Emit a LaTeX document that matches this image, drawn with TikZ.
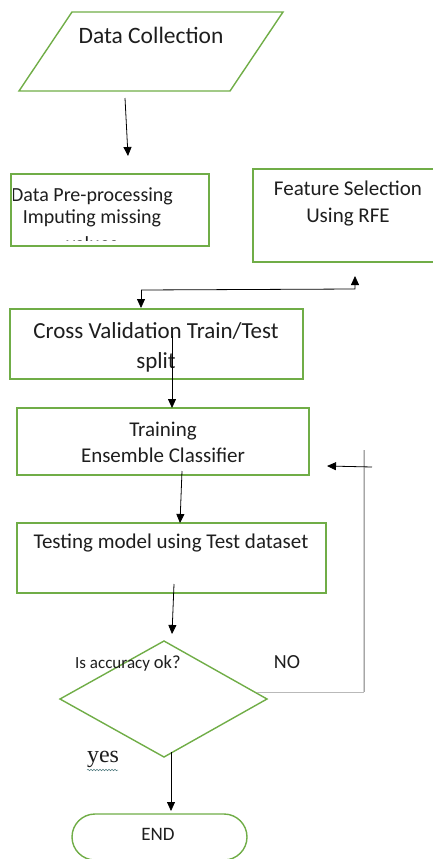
\documentclass[tikz,border=0pt]{standalone}
\usepackage{fontspec}
\setmainfont{Carlito}
\newfontfamily\yesfont{Liberation Serif}
\usetikzlibrary{arrows.meta,decorations.pathmorphing}
\definecolor{offgreen}{RGB}{112,173,71}
\definecolor{txtc}{RGB}{30,30,30}
\tikzset{
  gbox/.style={draw=offgreen,line width=1.4pt,fill=white,inner sep=0pt},
  arr/.style={black,line width=0.8pt,-{Triangle[width=8pt,length=9pt]}},
  lbl/.style={inner sep=0pt,text=txtc,align=center},
}
\begin{document}
\begin{tikzpicture}[x=1pt,y=-1pt]
\useasboundingbox (0,0) rectangle (433,859);
% Data collection parallelogram
\draw[offgreen,line width=1.4pt] (72,12) -- (283,12) -- (230,91) -- (19,91) -- cycle;
\node[lbl,font=\fontsize{23.5}{26}\selectfont] (dc) at (151,35) {Data Collection};
% Data preprocessing
\node[gbox,minimum width=198pt,minimum height=72pt] (dp) at (110,210) {};
\begin{scope}
\clip (13,176) rectangle (207,240);
\node[lbl,font=\fontsize{20}{22}\selectfont] (dpt) at (92,219) {Data Pre-processing\\Imputing missing\\[5pt]values};
\end{scope}
% Feature selection
\node[gbox,minimum width=184pt,minimum height=93pt] (fs) at (345,215.5) {};
\node[lbl,font=\fontsize{21}{27}\selectfont] (fst) at (348,204) {Feature Selection\\Using RFE};
% Cross validation
\node[gbox,minimum width=293pt,minimum height=70pt] (cv) at (156.5,344) {};
\node[lbl,font=\fontsize{23}{30}\selectfont] (cvt) at (156,347) {Cross Validation Train/Test\\split};
% Training
\node[gbox,minimum width=292pt,minimum height=67pt] (tr) at (163,441.5) {};
\node[lbl,font=\fontsize{21}{26}\selectfont] (trt) at (163,442) {Training\\Ensemble Classifier};
% Testing
\node[gbox,minimum width=309pt,minimum height=70pt] (te) at (171.5,558) {};
\node[lbl,font=\fontsize{21}{24}\selectfont] (tet) at (171,543) {Testing model using Test dataset};
% Diamond
\draw[offgreen,line width=1.4pt] (164,641) -- (267,699) -- (164,757) -- (60,699) -- cycle;
\node[lbl,anchor=base west] (acc) at (75,668) {\fontsize{17}{19}\selectfont Is accuracy \fontsize{18.5}{20}\selectfont ok?};
\node[lbl,font=\fontsize{20}{22}\selectfont] (no) at (287,662) {NO};
\node[lbl,font=\yesfont\fontsize{24}{26}\selectfont] (yes) at (103,759) {yes};
\draw[offgreen!70!blue,line width=0.5pt,decorate,decoration={snake,amplitude=0.8pt,segment length=3pt}] (87,770) -- (118,770);
% End
\node[gbox,rounded corners=23pt,minimum width=175pt,minimum height=46pt] (endn) at (159.5,837) {};
\node[lbl,font=\fontsize{19}{21}\selectfont] (endt) at (158,834) {END};
% connectors
\coordinate (a1s) at (125,98); \coordinate (a1e) at (128,156);
\draw[arr] (a1s) -- (a1e);
\coordinate (j) at (141,290); \coordinate (jr) at (355,289); \coordinate (fsin) at (355,276);
\coordinate (cvin) at (141,308);
\draw[arr] (j) -- (jr) -- (fsin);
\draw[arr] (j) -- (cvin);
\coordinate (a3s) at (172,336); \coordinate (a3e) at (172,408);
\draw[arr] (a3s) -- (a3e);
\coordinate (a4s) at (182,471); \coordinate (a4e) at (180,523);
\draw[arr] (a4s) -- (a4e);
\coordinate (a5s) at (174,584); \coordinate (a5e) at (172,634);
\draw[arr] (a5s) -- (a5e);
\coordinate (a6s) at (171,752); \coordinate (a6e) at (171,811);
\draw[arr] (a6s) -- (a6e);
% NO loop
\coordinate (ds) at (257,692); \coordinate (dcr) at (364,692); \coordinate (vt) at (364,450);
\draw[gray!55,line width=0.8pt] (ds) -- (dcr);
\draw[gray!35,line width=2.5pt] (dcr) -- (vt);
\draw[gray!70,line width=0.6pt] (dcr) -- (vt);
\coordinate (bs) at (372,467); \coordinate (be) at (327,466);
\draw[arr] (bs) -- (be);
\end{tikzpicture}
\end{document}
